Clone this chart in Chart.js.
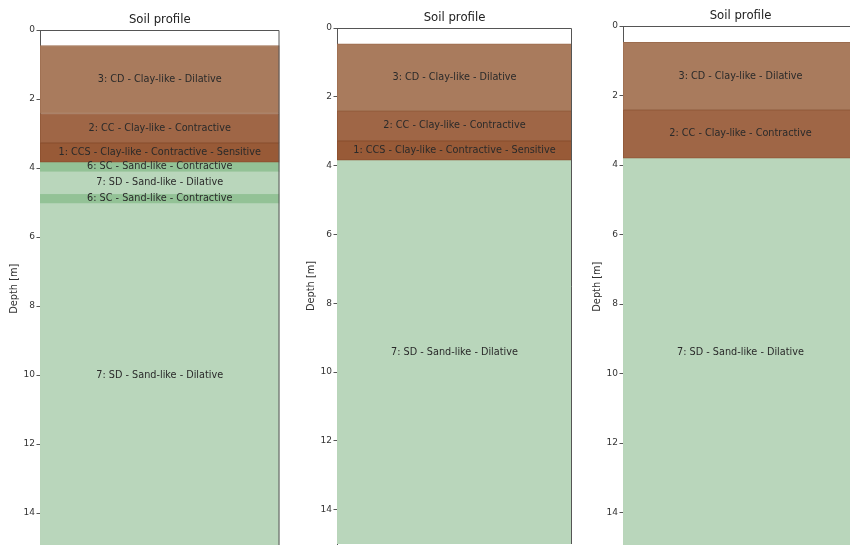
<!DOCTYPE html>
<html>
<head>
<meta charset="utf-8">
<script src="https://cdn.jsdelivr.net/npm/chart.js@4.4.1/dist/chart.umd.min.js"></script>
<style>
  html, body { margin: 0; padding: 0; background: #fff; overflow: hidden; width: 850px; height: 545px; }
  canvas { position: absolute; }
</style>
</head>
<body>
<canvas id="profile1"></canvas>
<canvas id="profile2"></canvas>
<canvas id="profile3"></canvas>
<script>
// soil behaviour types
const soilCodes = [1, 2, 3, 6, 7];
const soilLabels = [
    '1: CCS - Clay-like - Contractive - Sensitive',
    '2: CC - Clay-like - Contractive',
    '3: CD - Clay-like - Dilative',
    '6: SC - Sand-like - Contractive',
    '7: SD - Sand-like - Dilative'
];

// profile 1 (depths in m)
const codes1 = [3, 2, 1, 6, 7, 6, 7];
const tops1 = [0.45, 2.42, 3.27, 3.83, 4.10, 4.75, 5.02];
const bottoms1 = [2.42, 3.27, 3.83, 4.10, 4.75, 5.02, 15];

// profile 2
const codes2 = [3, 2, 1, 7];
const tops2 = [0.46, 2.41, 3.28, 3.84];
const bottoms2 = [2.41, 3.28, 3.84, 15];

// profile 3
const codes3 = [3, 2, 7];
const tops3 = [0.47, 2.41, 3.80];
const bottoms3 = [2.41, 3.80, 15];

const depthTicks = [0, 2, 4, 6, 8, 10, 12, 14];
const depthMax = 15;
const chartTitle = 'Soil profile';
const axisTitle = 'Depth [m]';

// colours per soil type
const fillColors = { 1: '#985a37', 2: '#9f6646', 3: '#a97b5d', 6: '#93c296', 7: '#b9d6bb' };
const edgeColors = { 1: '#8a4f2e', 2: '#8e5636', 3: '#9c6c4e', 6: '#93c296', 7: '#b9d6bb' };

const fontFamily = '"DejaVu Sans", sans-serif';

// where each plot area sits on the page
const panels = [
    { id: 'profile1', codes: codes1, tops: tops1, bottoms: bottoms1, left: 40, top: 30, right: 279.5, pxPerM: 34.5 },
    { id: 'profile2', codes: codes2, tops: tops2, bottoms: bottoms2, left: 337, top: 28, right: 572, pxPerM: 34.4 },
    { id: 'profile3', codes: codes3, tops: tops3, bottoms: bottoms3, left: 622.5, top: 25.5, right: 857.5, pxPerM: 34.75 }
];

const axisW = 40;
const padTop = 30;

// layer names, title and top/right frame
const profileDecor = {
    id: 'profileDecor',
    afterDatasetsDraw(chart) {
        const { ctx, chartArea: a, scales: { y } } = chart;
        const cx = (a.left + a.right) / 2;
        ctx.save();
        ctx.textAlign = 'center';
        ctx.textBaseline = 'middle';
        ctx.fillStyle = '#2a2a2a';
        ctx.font = '9.7px ' + fontFamily;
        chart.data.datasets.forEach(ds => {
            const [t, b] = ds.data[0];
            ctx.fillText(ds.label, cx, y.getPixelForValue((t + b) / 2));
        });

        ctx.strokeStyle = '#555';
        ctx.lineWidth = 1;
        ctx.beginPath();
        ctx.moveTo(a.left, a.top + 0.5);
        ctx.lineTo(a.right - 0.5, a.top + 0.5);
        ctx.lineTo(a.right - 0.5, a.bottom);
        ctx.stroke();

        ctx.fillStyle = '#222';
        ctx.font = '11.7px ' + fontFamily;
        ctx.fillText(chartTitle, cx, a.top - 10);
        ctx.restore();
    }
};

panels.forEach(p => {
    const canvas = document.getElementById(p.id);
    const plotW = p.right - p.left;
    const plotH = p.pxPerM * depthMax;
    const width = Math.ceil(axisW + plotW + 2);
    const height = Math.ceil(padTop + plotH + 12);
    canvas.width = width;
    canvas.height = height;
    canvas.style.width = width + 'px';
    canvas.style.height = height + 'px';
    canvas.style.left = (p.left - axisW) + 'px';
    canvas.style.top = (p.top - padTop) + 'px';

    new Chart(canvas, {
        type: 'bar',
        data: {
            labels: [''],
            datasets: p.codes.map((c, i) => ({
                label: soilLabels[soilCodes.indexOf(c)],
                data: [[p.tops[i], p.bottoms[i]]],
                backgroundColor: fillColors[c],
                borderColor: edgeColors[c],
                borderWidth: 1,
                borderSkipped: false,
                barPercentage: 1,
                categoryPercentage: 1
            }))
        },
        options: {
            responsive: false,
            animation: false,
            layout: {
                padding: { top: padTop, left: 0, right: width - axisW - plotW, bottom: height - padTop - plotH }
            },
            scales: {
                x: { display: false, stacked: true },
                y: {
                    reverse: true,
                    min: 0,
                    max: depthMax,
                    afterFit: s => { s.width = axisW; },
                    afterBuildTicks: s => { s.ticks = depthTicks.map(v => ({ value: v })); },
                    ticks: { font: { family: fontFamily, size: 9 }, color: '#333', padding: 1.5 },
                    grid: { drawOnChartArea: false, drawTicks: true, tickLength: 3.5, color: '#555' },
                    border: { display: true, color: '#555', width: 1 },
                    title: {
                        display: true,
                        text: axisTitle,
                        color: '#333',
                        font: { family: fontFamily, size: 9.8 },
                        padding: { top: 9, bottom: 0 }
                    }
                }
            },
            plugins: {
                legend: { display: false },
                title: { display: false },
                tooltip: { enabled: false }
            }
        },
        plugins: [profileDecor]
    });
});
</script>
</body>
</html>
